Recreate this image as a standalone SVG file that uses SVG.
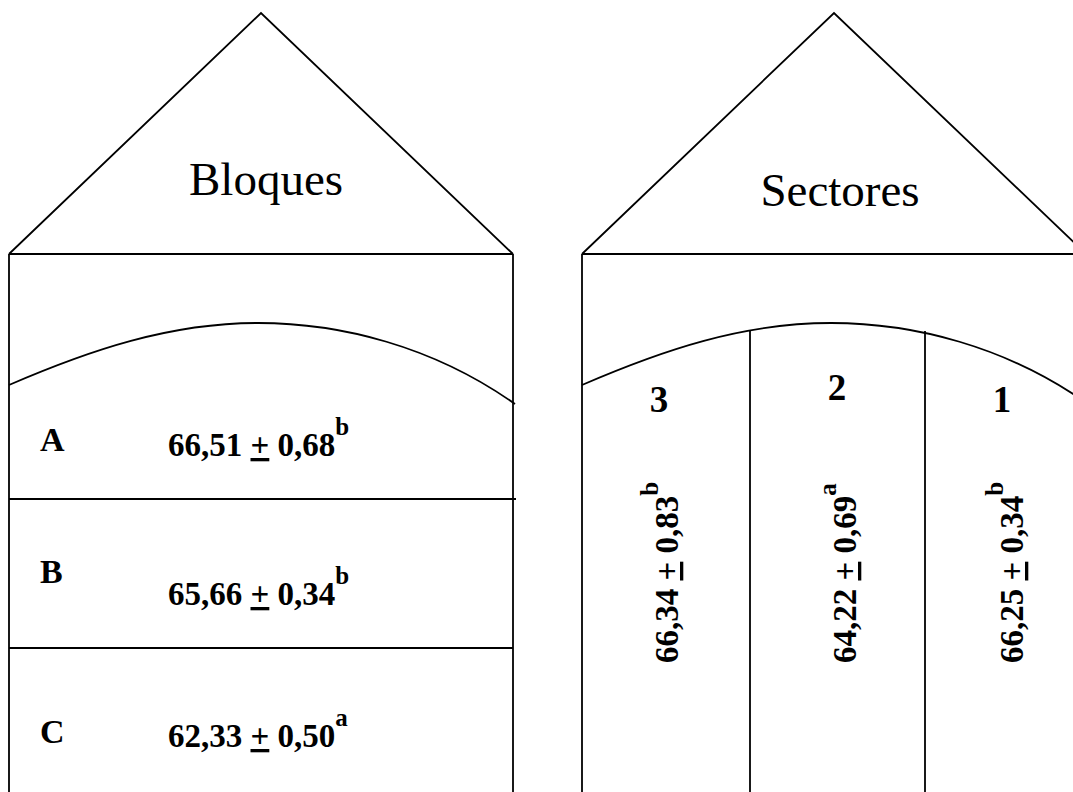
<svg xmlns="http://www.w3.org/2000/svg" width="1073" height="792" viewBox="0 0 1073 792">
  <defs>
    <style>
      .ln { fill: none; stroke: #000; stroke-width: 1.8; }
      .title { font-family: "Liberation Serif", "Times New Roman", serif; font-size: 47px; fill: #000; text-anchor: middle; }
      .lbl { font-family: "Liberation Serif", "Times New Roman", serif; font-weight: bold; font-size: 34px; fill: #000; }
      .num { font-family: "Liberation Serif", "Times New Roman", serif; font-weight: bold; font-size: 37px; fill: #000; text-anchor: middle; }
      .val { font-family: "Liberation Serif", "Times New Roman", serif; font-weight: bold; font-size: 33px; fill: #000; }
      .sup { font-size: 25px; }
      .pm { text-decoration: underline; }
    </style>
    <!-- house outline: roof, eaves line, walls and the curved band -->
    <g id="house-shape">
      <polyline class="ln" points="9,254 261,13 513,254"/>
      <line class="ln" x1="9" y1="254" x2="513" y2="254"/>
      <line class="ln" x1="9" y1="254" x2="9" y2="792"/>
      <line class="ln" x1="513" y1="254" x2="513" y2="792"/>
      <path class="ln" d="M9,385 C90,350 170,323 258,323 C340,323 433,346 515,404"/>
    </g>
  </defs>

  <!-- Bloques -->
  <g id="bloques">
    <use href="#house-shape"/>
    <text class="title" x="266" y="195">Bloques</text>
    <line class="ln" x1="9" y1="499" x2="516" y2="499"/>
    <line class="ln" x1="9" y1="648" x2="513" y2="648"/>
  </g>

  <g id="bloque-a">
    <text class="lbl" x="40" y="451">A</text>
    <text class="val" x="168" y="456">66,51 <tspan class="pm">+</tspan> 0,68<tspan class="sup" dy="-21">b</tspan></text>
  </g>
  <g id="bloque-b">
    <text class="lbl" x="40" y="583">B</text>
    <text class="val" x="168" y="605">65,66 <tspan class="pm">+</tspan> 0,34<tspan class="sup" dy="-21">b</tspan></text>
  </g>
  <g id="bloque-c">
    <text class="lbl" x="40" y="743">C</text>
    <text class="val" x="168" y="747">62,33 <tspan class="pm">+</tspan> 0,50<tspan class="sup" dy="-21">a</tspan></text>
  </g>

  <!-- Sectores -->
  <g id="sectores">
    <use href="#house-shape" transform="translate(573,0)"/>
    <text class="title" x="840" y="206">Sectores</text>
    <line class="ln" x1="750" y1="330" x2="750" y2="792"/>
    <line class="ln" x1="925" y1="331" x2="925" y2="792"/>
  </g>

  <g id="sector-3">
    <text class="num" x="659" y="412">3</text>
    <text class="val" transform="translate(678,663) rotate(-90)">66,34 <tspan class="pm">+</tspan> 0,83<tspan class="sup" dy="-20">b</tspan></text>
  </g>
  <g id="sector-2">
    <text class="num" x="837" y="400">2</text>
    <text class="val" transform="translate(856,663) rotate(-90)">64,22 <tspan class="pm">+</tspan> 0,69<tspan class="sup" dy="-20">a</tspan></text>
  </g>
  <g id="sector-1">
    <text class="num" x="1002" y="412">1</text>
    <text class="val" transform="translate(1023,663) rotate(-90)">66,25 <tspan class="pm">+</tspan> 0,34<tspan class="sup" dy="-20">b</tspan></text>
  </g>
</svg>
